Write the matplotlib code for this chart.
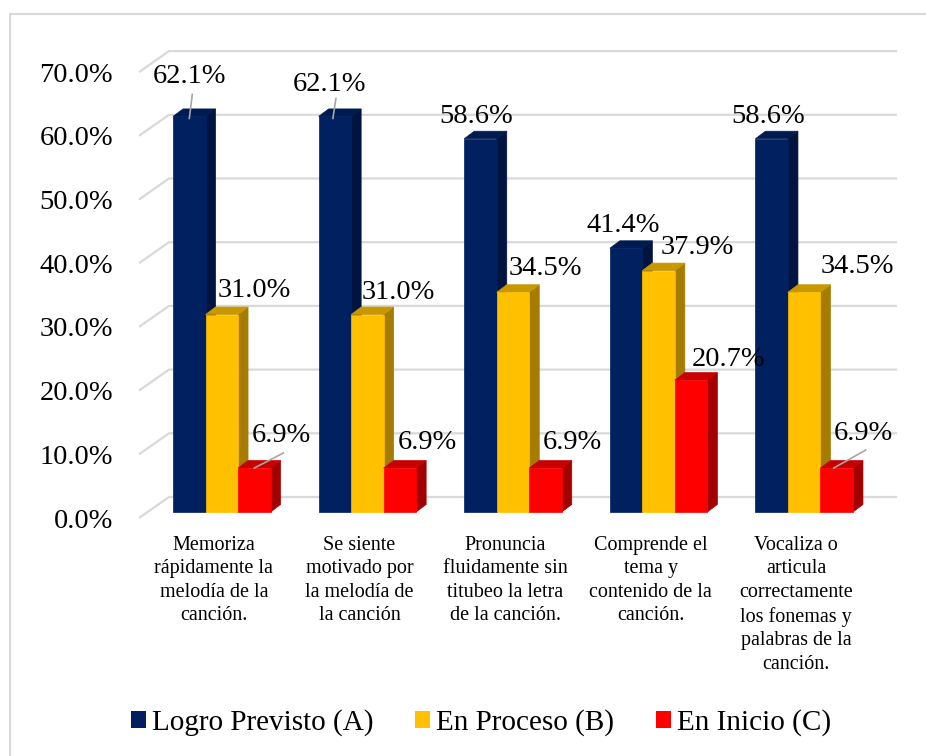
import matplotlib
matplotlib.use("Agg")
import matplotlib.pyplot as plt
from matplotlib.patches import Polygon, Patch

# ---------------- data ----------------
categories = [
    "Memoriza\nrápidamente la\nmelodía de la\ncanción.",
    "Se siente\nmotivado por\nla melodía de\nla canción",
    "Pronuncia\nfluidamente sin\ntitubeo la letra\nde la canción.",
    "Comprende el\ntema y\ncontenido de la\ncanción.",
    "Vocaliza o\narticula\ncorrectamente\nlos fonemas y\npalabras de la\ncanción.",
]
series_names = ["Logro Previsto (A)", "En Proceso (B)", "En Inicio (C)"]
logro = [62.1, 62.1, 58.6, 41.4, 58.6]
proceso = [31.0, 31.0, 34.5, 37.9, 34.5]
inicio = [6.9, 6.9, 6.9, 20.7, 6.9]
y_ticks = [0, 10, 20, 30, 40, 50, 60, 70]

# ---------------- style ----------------
FONT = ["Liberation Serif", "DejaVu Serif"]
front_cols = ["#002060", "#FFC000", "#FF0000"]
side_cols = ["#00143f", "#A67C00", "#A30000"]
top_cols = ["#001b52", "#C99800", "#C80000"]
grid_col = "#d9d9d9"
leader_col = "#a6a6a6"

W, H = 926, 756
PX_X = 145.6          # pixels per category
PX_Y = 6.37           # pixels per percent
X0, Y0 = 139, 518     # front plane origin (pixels)

def dx(px):
    return px / PX_X

def dy(px):
    return -px / PX_Y

fig = plt.figure(figsize=(W / 100, H / 100), dpi=100)
ax = fig.add_axes([0, 0, 1, 1])
ax.set_xlim(-X0 / PX_X, (W - X0) / PX_X)
ax.set_ylim((Y0 - H) / PX_Y, Y0 / PX_Y)
ax.axis("off")

# outer border (left and top)
ax.plot([dx(10 - X0), dx(10 - X0), dx(W + 5 - X0)],
        [dy(H + 5 - Y0), dy(14 - Y0), dy(14 - Y0)],
        color=grid_col, lw=1.5, clip_on=False, zorder=0)

# wall geometry
wall_dx, wall_dy = dx(30), dy(-21)
ncat = len(categories)
for v in y_ticks:
    ax.plot([0, wall_dx, ncat + wall_dx], [v, v + wall_dy, v + wall_dy],
            color=grid_col, lw=1.6, zorder=1, solid_capstyle="butt")
    ax.text(dx(113 - X0), v + dy(9.5), f"{v:.1f}%", ha="right", va="baseline",
            fontsize=20.5, family=FONT, color="black")

# bars
bw = dx(32.5)
shift_x, shift_y = dx(10), dy(-6)
depth_x, depth_y = dx(10), dy(-7.5)
series = [logro, proceso, inicio]

# label offsets (pixels, relative to front-top centre of bar): (dx, dy baseline)
label_off = [
    [(0, -33), (-5, -25), (-4, -16), (-3, -16), (-4, -16)],
    [(33, -18), (31, -16), (32, -17), (39, -17), (53, -19)],
    [(27, -26), (27, -19), (27, -19), (37, -14), (27, -28)],
]
# leader lines: (series, category) -> ((x0,y0),(x1,y1)) pixel offsets
leaders = {
    (0, 0): ((3, -22), (0, 2)),
    (0, 1): ((1, -18), (-2, 2)),
    (2, 0): ((29, -15), (0, 0)),
    (2, 4): ((29, -18), (-3, 0)),
}

for i, vals in enumerate(series):
    xs = [c + 0.5 + (i - 1) * bw + shift_x for c in range(ncat)]
    bars = ax.bar(xs, vals, width=bw, bottom=shift_y, color=front_cols[i],
                  edgecolor=front_cols[i], linewidth=0.5, zorder=3 + 2 * i)
    for c, rect in enumerate(bars.patches):
        x_l = rect.get_x()
        x_r = x_l + rect.get_width()
        y_b = rect.get_y()
        y_t = y_b + rect.get_height()
        side = Polygon([(x_r, y_b), (x_r + depth_x, y_b + depth_y),
                        (x_r + depth_x, y_t + depth_y), (x_r, y_t)],
                       closed=True, facecolor=side_cols[i], edgecolor=side_cols[i],
                       lw=0.5, zorder=2 + 2 * i)
        top = Polygon([(x_l, y_t), (x_r, y_t), (x_r + depth_x, y_t + depth_y),
                       (x_l + depth_x, y_t + depth_y)],
                      closed=True, facecolor=top_cols[i], edgecolor=top_cols[i],
                      lw=0.5, zorder=2 + 2 * i)
        ax.add_patch(side)
        ax.add_patch(top)
        cx = x_l + rect.get_width() / 2
        ox, oy = label_off[i][c]
        ax.text(cx + dx(ox), y_t + dy(oy), f"{vals[c]:.1f}%", ha="center",
                va="baseline", fontsize=20.5, family=FONT, color="black", zorder=20)
        if (i, c) in leaders:
            (a0, b0), (a1, b1) = leaders[(i, c)]
            ax.plot([cx + dx(a0), cx + dx(a1)], [y_t + dy(b0), y_t + dy(b1)],
                    color=leader_col, lw=1.2, zorder=19)

# category labels
for c, lab in enumerate(categories):
    ax.text(c + 0.5 + dx(2), dy(536 - Y0), lab, ha="center", va="top",
            fontsize=14.5, family=FONT, color="black", linespacing=1.32)

# legend
handles = [Patch(facecolor=front_cols[i], edgecolor="none") for i in range(3)]
fig.legend(handles, series_names, loc="center", bbox_to_anchor=(481 / W, 1 - 723 / H),
           ncol=3, frameon=False, prop={"family": FONT, "size": 21},
           handlelength=0.51, handleheight=0.51, handletextpad=0.2,
           columnspacing=1.44, borderpad=0, borderaxespad=0)

fig.savefig("out.png", dpi=100)
